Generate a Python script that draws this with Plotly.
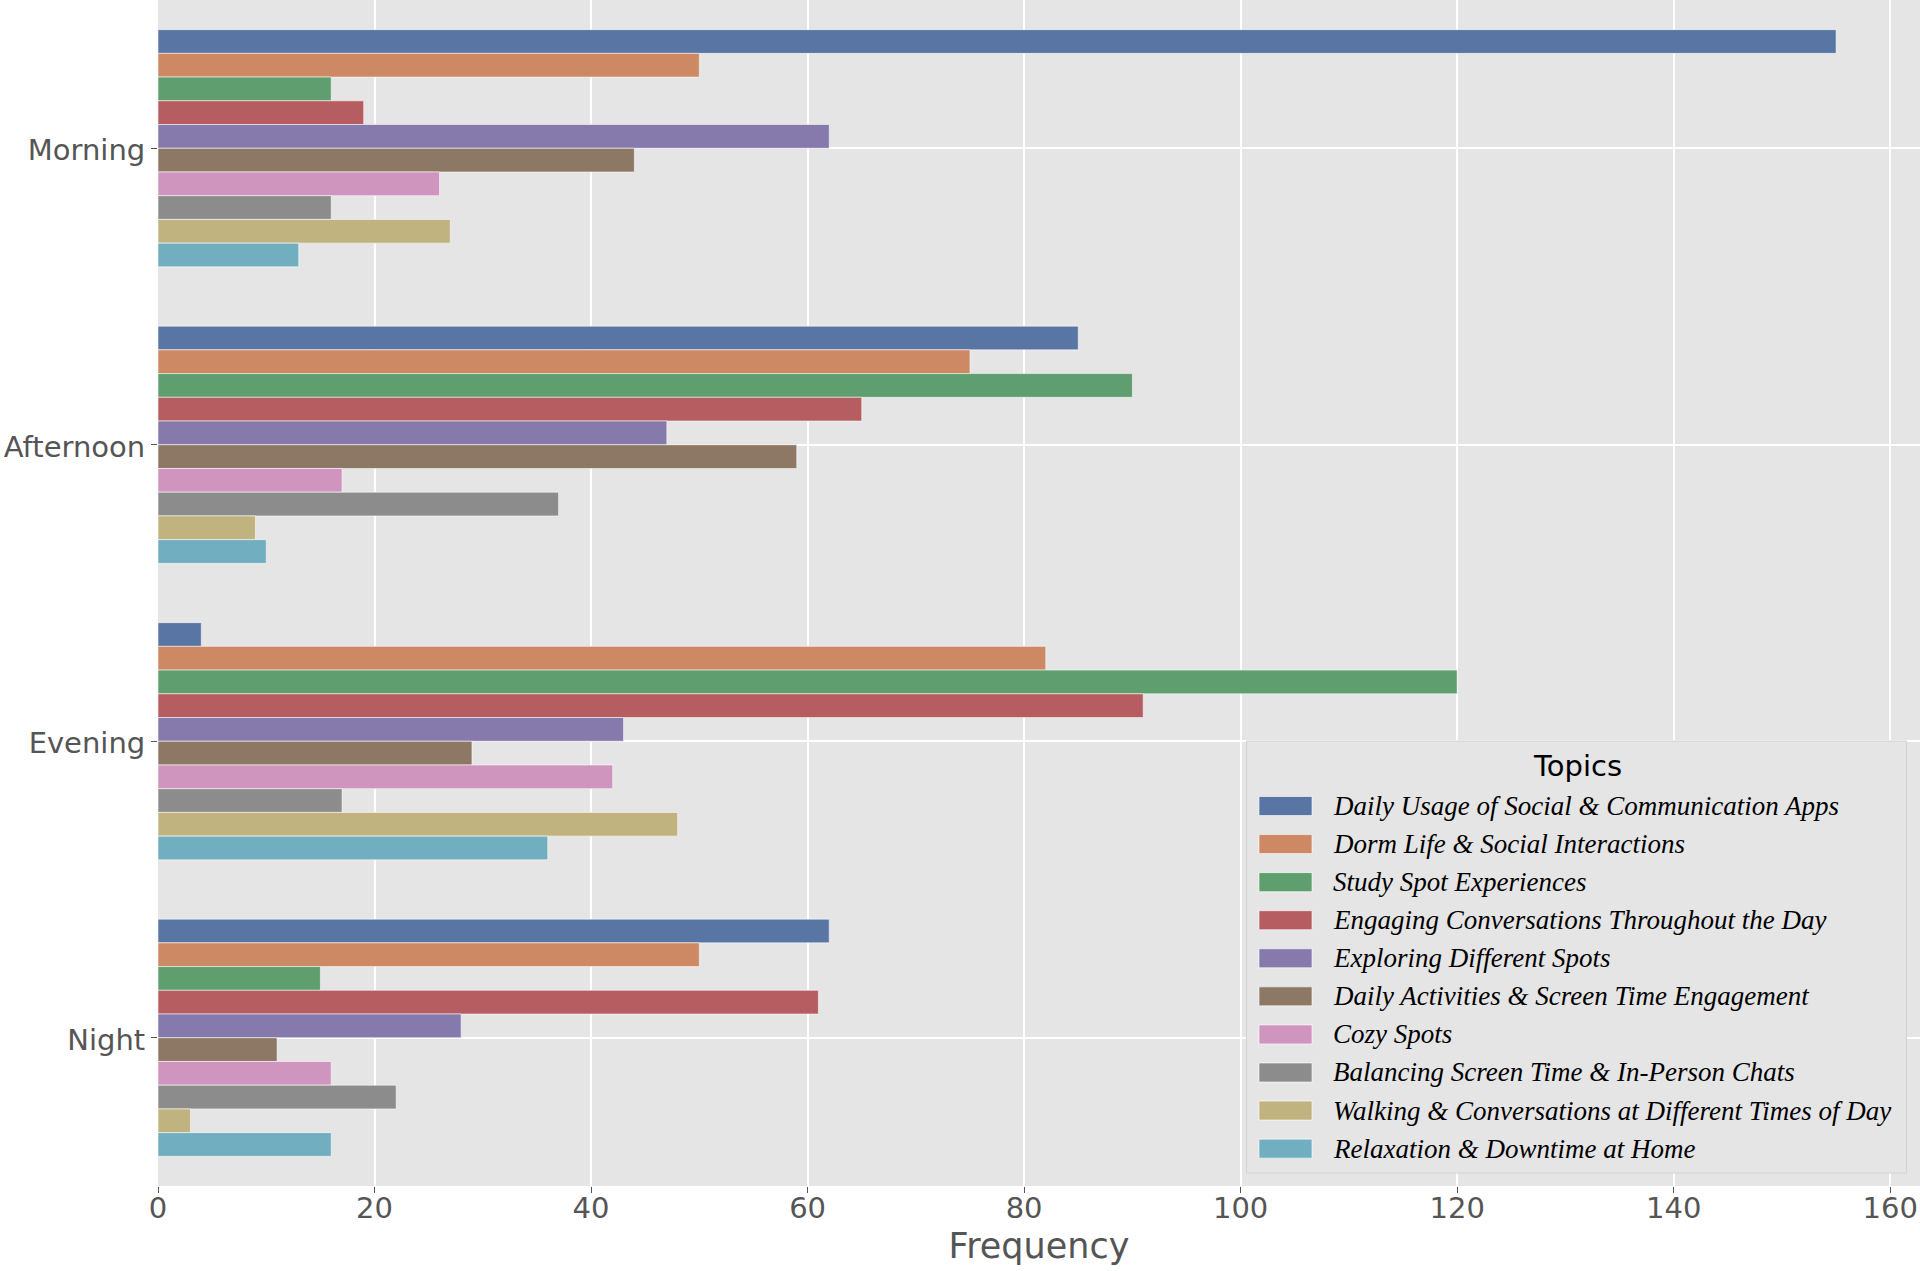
import colorsys
import plotly.graph_objects as go

times = ["Morning", "Afternoon", "Evening", "Night"]
topics = [
    "Daily Usage of Social & Communication Apps",
    "Dorm Life & Social Interactions",
    "Study Spot Experiences",
    "Engaging Conversations Throughout the Day",
    "Exploring Different Spots",
    "Daily Activities & Screen Time Engagement",
    "Cozy Spots",
    "Balancing Screen Time & In-Person Chats",
    "Walking & Conversations at Different Times of Day",
    "Relaxation & Downtime at Home",
]
# values per topic, ordered as times
daily_usage = [155, 85, 4, 62]
dorm_life = [50, 75, 82, 50]
study_spot = [16, 90, 120, 15]
engaging_conv = [19, 65, 91, 61]
exploring = [62, 47, 43, 28]
daily_activities = [44, 59, 29, 11]
cozy = [26, 17, 42, 16]
balancing = [16, 37, 17, 22]
walking = [27, 9, 48, 3]
relaxation = [13, 10, 36, 16]
series = [daily_usage, dorm_life, study_spot, engaging_conv, exploring,
          daily_activities, cozy, balancing, walking, relaxation]
x_ticks = [0, 20, 40, 60, 80, 100, 120, 140, 160]

deep = ["#4C72B0", "#DD8452", "#55A868", "#C44E52", "#8172B3",
        "#937860", "#DA8BC3", "#8C8C8C", "#CCB974", "#64B5CD"]


def desat(hexc, prop=0.75):
    r, g, b = (int(hexc[i:i + 2], 16) / 255 for i in (1, 3, 5))
    h, l, s = colorsys.rgb_to_hls(r, g, b)
    r, g, b = colorsys.hls_to_rgb(h, l, s * prop)
    return "rgb(%d,%d,%d)" % (round(r * 255), round(g * 255), round(b * 255))


colors = [desat(c) for c in deep]

fig = go.Figure()
for name, vals, col in zip(topics, series, colors):
    fig.add_trace(go.Bar(
        y=times, x=vals, name=name, orientation="h", showlegend=False,
        marker=dict(color=col, line=dict(color="rgba(255,255,255,0.55)", width=1)),
    ))

W, H = 1920, 1271
ml, mr, mt, mb = 158, 0, 0, 85
pw, ph = W - ml - mr, H - mt - mb


def px(x):
    return (x - ml) / pw


def py(y):
    return (H - mb - y) / ph


tick_font = dict(family="DejaVu Sans", size=29, color="#555555")

# ---- legend (drawn as box, swatches and text) ----
shapes = [dict(type="rect", xref="paper", yref="paper",
               x0=px(1246.5), x1=px(1906.5), y0=py(1173), y1=py(741),
               fillcolor="#E5E5E5", line=dict(color="#d2d2d2", width=1), layer="above")]
annotations = [dict(text="Topics", xref="paper", yref="paper", x=px(1577), y=py(766),
                    xanchor="center", yanchor="middle", showarrow=False,
                    font=dict(family="DejaVu Sans", size=29, color="black"))]
row0, row_step = 806, 38.07
for i, (name, col) in enumerate(zip(topics, colors)):
    cy = row0 + i * row_step
    shapes.append(dict(type="rect", xref="paper", yref="paper",
                       x0=px(1259), x1=px(1312), y0=py(cy + 9.5), y1=py(cy - 9.5),
                       fillcolor=col, line=dict(color="rgba(255,255,255,0.6)", width=1),
                       layer="above"))
    annotations.append(dict(text=name, xref="paper", yref="paper", x=px(1331), y=py(cy),
                            xanchor="left", yanchor="middle", showarrow=False,
                            font=dict(family="Liberation Serif", size=27, color="black",
                                      style="italic")))

fig.update_layout(
    width=W, height=H,
    margin=dict(l=ml, r=mr, t=mt, b=mb, pad=0, autoexpand=False),
    paper_bgcolor="white", plot_bgcolor="#E5E5E5",
    barmode="group", bargap=0.2, bargroupgap=0,
    xaxis=dict(
        range=[0, 162.75], tickvals=x_ticks, automargin=False,
        showgrid=True, gridcolor="white", gridwidth=1.5, zeroline=False,
        ticks="outside", ticklen=6, tickwidth=1, tickcolor="#555555",
        tickfont=tick_font, showline=False, ticklabelstandoff=-10,
        title=dict(text="Frequency", font=dict(family="DejaVu Sans", size=35, color="#555555"), standoff=9),
    ),
    yaxis=dict(
        type="category", categoryorder="array", categoryarray=times,
        range=[3.5, -0.5], automargin=False,
        showgrid=True, gridcolor="white", gridwidth=1.5, zeroline=False,
        ticks="outside", ticklen=6, tickwidth=1, tickcolor="#555555",
        tickfont=tick_font, showline=False, ticklabelshift=-2,
    ),
    shapes=shapes,
    annotations=annotations,
    showlegend=False,
)

fig.write_html(
    "out.html",
    config={"displayModeBar": False},
    post_script="document.body.style.margin='0';document.body.style.overflow='hidden';",
)
